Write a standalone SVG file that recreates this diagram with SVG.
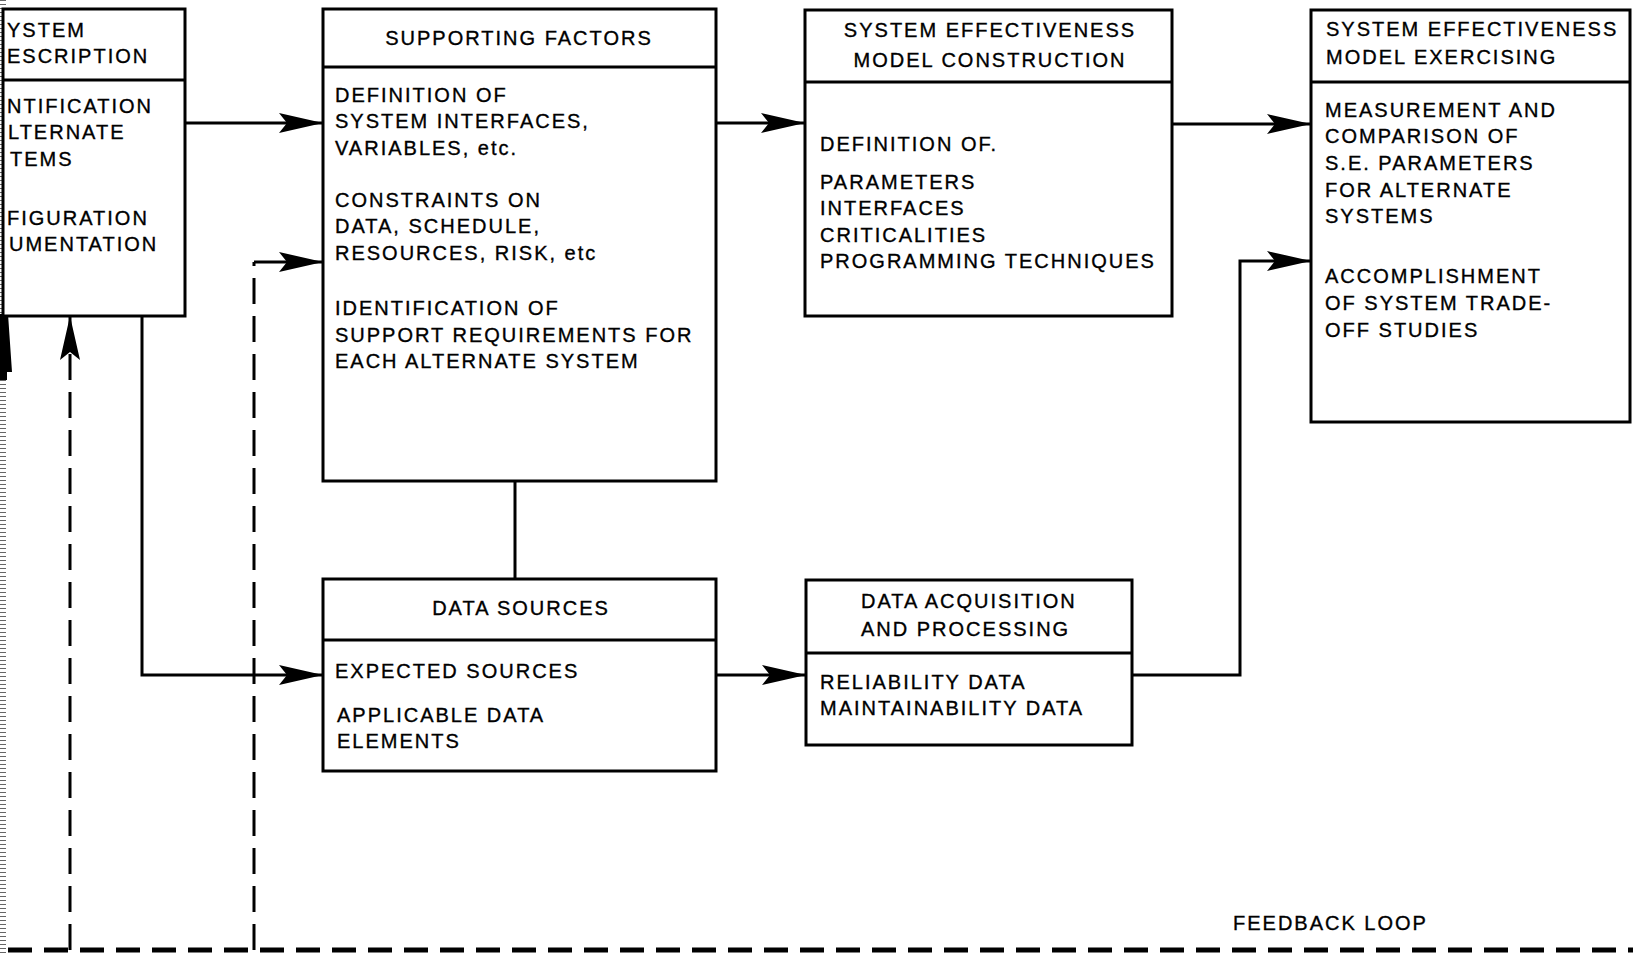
<svg xmlns="http://www.w3.org/2000/svg" width="1633" height="954" viewBox="0 0 1633 954">
<style>
  .box { fill: #fff; stroke: #000; stroke-width: 3; }
  .div { stroke: #000; stroke-width: 3; fill: none; }
  .t { font-family: "Liberation Sans", Arial, sans-serif; font-size: 20px; letter-spacing: 2px; fill: #000; stroke: #000; stroke-width: 0.35; }
  .c { text-anchor: middle; }
  .ln { stroke: #000; stroke-width: 3; fill: none; }
  .dash { stroke: #000; stroke-width: 3; fill: none; stroke-dasharray: 26 12; }
  .dashb { stroke: #000; stroke-width: 5; fill: none; stroke-dasharray: 24 12; }
</style>
<defs>
  <marker id="ah" viewBox="-46 -12 48 24" refX="0" refY="0" markerWidth="48" markerHeight="24" markerUnits="userSpaceOnUse" orient="auto">
    <path d="M0,0 L-44,-10 L-36,0 L-44,10 Z" fill="#000"/>
  </marker>
</defs>
<rect width="1633" height="954" fill="#fff"/>

<!-- left edge scan remnants -->
<line x1="3" y1="0" x2="3" y2="954" stroke="#666" stroke-width="6" stroke-dasharray="1 3"/>
<path d="M0,314 H8 L12,372 H7 V380 H0 Z" fill="#000"/>

<g id="system-description">
  <rect class="box" x="3" y="9" width="182" height="307"/>
  <line class="div" x1="3" y1="80" x2="185" y2="80"/>
  <text class="t" x="7" y="37">YSTEM</text>
  <text class="t" x="7" y="63">ESCRIPTION</text>
  <text class="t" x="7" y="113">NTIFICATION</text>
  <text class="t" x="8" y="139">LTERNATE</text>
  <text class="t" x="10" y="166">TEMS</text>
  <text class="t" x="7" y="225">FIGURATION</text>
  <text class="t" x="9" y="251">UMENTATION</text>
</g>

<g id="supporting-factors">
  <rect class="box" x="323" y="9" width="393" height="472"/>
  <line class="div" x1="323" y1="67" x2="716" y2="67"/>
  <text class="t c" x="519" y="45">SUPPORTING FACTORS</text>
  <text class="t" x="335" y="102">DEFINITION OF</text>
  <text class="t" x="335" y="128">SYSTEM INTERFACES,</text>
  <text class="t" x="335" y="155">VARIABLES, etc.</text>
  <text class="t" x="335" y="207">CONSTRAINTS ON</text>
  <text class="t" x="335" y="233">DATA, SCHEDULE,</text>
  <text class="t" x="335" y="260">RESOURCES, RISK, etc</text>
  <text class="t" x="335" y="315">IDENTIFICATION OF</text>
  <text class="t" x="335" y="342">SUPPORT REQUIREMENTS FOR</text>
  <text class="t" x="335" y="368">EACH ALTERNATE SYSTEM</text>
</g>

<g id="se-model-construction">
  <rect class="box" x="805" y="10" width="367" height="306"/>
  <line class="div" x1="805" y1="82" x2="1172" y2="82"/>
  <text class="t c" x="990" y="37">SYSTEM EFFECTIVENESS</text>
  <text class="t c" x="990" y="67">MODEL CONSTRUCTION</text>
  <text class="t" x="820" y="151">DEFINITION OF.</text>
  <text class="t" x="820" y="189">PARAMETERS</text>
  <text class="t" x="820" y="215">INTERFACES</text>
  <text class="t" x="820" y="242">CRITICALITIES</text>
  <text class="t" x="820" y="268">PROGRAMMING TECHNIQUES</text>
</g>

<g id="se-model-exercising">
  <rect class="box" x="1311" y="10" width="319" height="412"/>
  <line class="div" x1="1311" y1="82" x2="1630" y2="82"/>
  <text class="t" x="1326" y="36">SYSTEM EFFECTIVENESS</text>
  <text class="t" x="1326" y="64">MODEL EXERCISING</text>
  <text class="t" x="1325" y="117">MEASUREMENT AND</text>
  <text class="t" x="1325" y="143">COMPARISON OF</text>
  <text class="t" x="1325" y="170">S.E. PARAMETERS</text>
  <text class="t" x="1325" y="197">FOR ALTERNATE</text>
  <text class="t" x="1325" y="223">SYSTEMS</text>
  <text class="t" x="1325" y="283">ACCOMPLISHMENT</text>
  <text class="t" x="1325" y="310">OF SYSTEM TRADE-</text>
  <text class="t" x="1325" y="337">OFF STUDIES</text>
</g>

<g id="data-sources">
  <rect class="box" x="323" y="579" width="393" height="192"/>
  <line class="div" x1="323" y1="640" x2="716" y2="640"/>
  <text class="t c" x="521" y="615">DATA SOURCES</text>
  <text class="t" x="335" y="678">EXPECTED SOURCES</text>
  <text class="t" x="337" y="722">APPLICABLE DATA</text>
  <text class="t" x="337" y="748">ELEMENTS</text>
</g>

<g id="data-acquisition">
  <rect class="box" x="806" y="580" width="326" height="165"/>
  <line class="div" x1="806" y1="653" x2="1132" y2="653"/>
  <text class="t" x="861" y="608">DATA ACQUISITION</text>
  <text class="t" x="861" y="636">AND PROCESSING</text>
  <text class="t" x="820" y="689">RELIABILITY DATA</text>
  <text class="t" x="820" y="715">MAINTAINABILITY DATA</text>
</g>

<g id="connectors">
  <line class="ln" x1="185" y1="123" x2="323" y2="123" marker-end="url(#ah)"/>
  <line class="ln" x1="716" y1="123" x2="805" y2="123" marker-end="url(#ah)"/>
  <line class="ln" x1="1172" y1="124" x2="1311" y2="124" marker-end="url(#ah)"/>
  <polyline class="ln" points="142,316 142,675 323,675" marker-end="url(#ah)"/>
  <line class="ln" x1="515" y1="481" x2="515" y2="579"/>
  <line class="ln" x1="716" y1="675" x2="806" y2="675" marker-end="url(#ah)"/>
  <polyline class="ln" points="1132,675 1240,675 1240,261 1311,261" marker-end="url(#ah)"/>
  <line class="ln" x1="254" y1="262" x2="323" y2="262" marker-end="url(#ah)"/>
  <line class="dash" x1="254" y1="950" x2="254" y2="262"/>
  <line class="dash" x1="70" y1="950" x2="70" y2="316" marker-end="url(#ah)"/>
  <line class="dashb" x1="8" y1="950" x2="1633" y2="950"/>
</g>

<text class="t" x="1233" y="930">FEEDBACK LOOP</text>
</svg>
